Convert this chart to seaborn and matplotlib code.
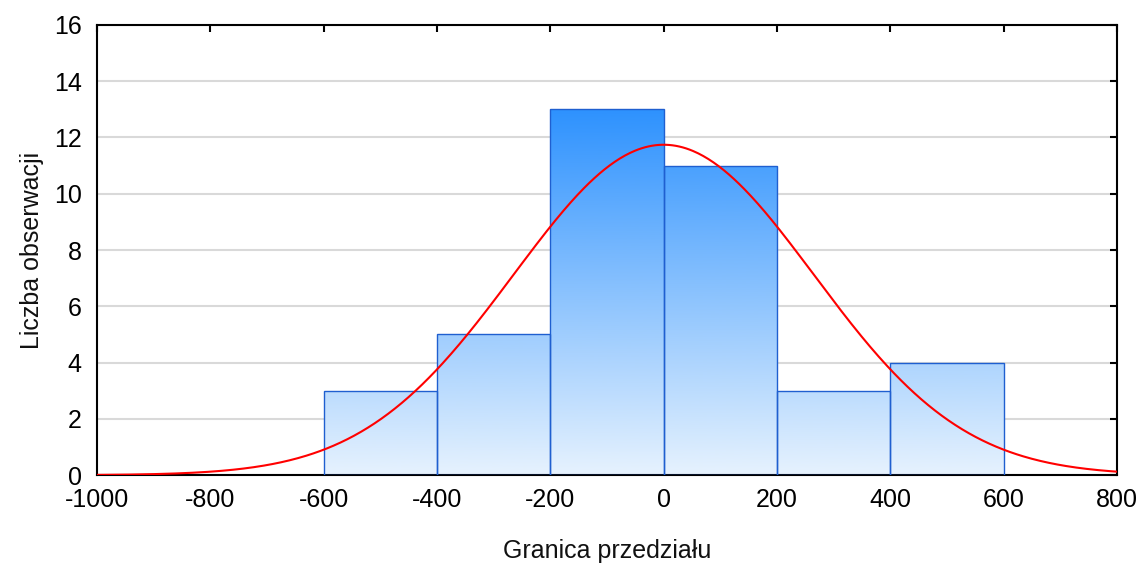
import numpy as np
import pandas as pd
import matplotlib
matplotlib.use("Agg")
import matplotlib.pyplot as plt
import seaborn as sns
from matplotlib.colors import LinearSegmentedColormap

# Data
bin_edges = [-600, -400, -200, 0, 200, 400, 600]
counts = [3, 5, 13, 11, 3, 4]
fit_mean = 0.0
fit_sd = 265.0
x_ticks = [-1000, -800, -600, -400, -200, 0, 200, 400, 600, 800]
y_ticks = [0, 2, 4, 6, 8, 10, 12, 14, 16]

sns.set_theme(style="white")
plt.rcParams['font.family'] = ['Liberation Sans', 'DejaVu Sans']
plt.rcParams['axes.unicode_minus'] = False

mids = [(a + b) / 2 for a, b in zip(bin_edges[:-1], bin_edges[1:])]
df = pd.DataFrame({"mid": mids, "count": counts})

fig = plt.figure(figsize=(11.41, 5.67), dpi=100)
ax = fig.add_axes([0.085, 0.162, 0.894, 0.794])

sns.histplot(data=df, x="mid", weights="count", bins=bin_edges, ax=ax,
             color="#3b97ff", edgecolor="#1f5fd0", linewidth=1.0, alpha=1.0)

cmap = LinearSegmentedColormap.from_list("g", ["#e6f2fe", "#2e92fe"])
grad = np.linspace(0, 1, 256).reshape(-1, 1)
for p in list(ax.patches):
    p.set_facecolor("none")
    p.set_zorder(3)
    im = ax.imshow(grad, cmap=cmap, aspect="auto", origin="lower",
                   extent=[-1000, 800, 0, 13], zorder=2, interpolation="bicubic")
    im.set_clip_path(p)

# Normal fit
n = sum(counts)
w = bin_edges[1] - bin_edges[0]
xs = np.linspace(-1000, 800, 600)
ys = n * w / (fit_sd * np.sqrt(2 * np.pi)) * np.exp(-0.5 * ((xs - fit_mean) / fit_sd) ** 2)
sns.lineplot(x=xs, y=ys, ax=ax, color="#ff0000", linewidth=1.5, zorder=5)

ax.set_xlim(-1000, 800)
ax.set_ylim(0, 16)
ax.set_xticks(x_ticks)
ax.set_yticks(y_ticks)
ax.yaxis.grid(True, color="#d9d9d9", linewidth=1.5, zorder=0)
ax.set_axisbelow(True)
for s in ax.spines.values():
    s.set_color("black")
    s.set_linewidth(1.5)
ax.tick_params(direction="in", length=5, width=1.5, color="black",
               top=True, right=True, labelsize=18, labelcolor="black")
ax.tick_params(axis="x", pad=9)
ax.tick_params(axis="y", pad=11)
ax.set_xlabel("Granica przedziału", fontsize=18, color="#111111", labelpad=20)
ax.set_ylabel("Liczba obserwacji", fontsize=18, color="#111111", labelpad=7)

fig.savefig("out.png", dpi=100)
